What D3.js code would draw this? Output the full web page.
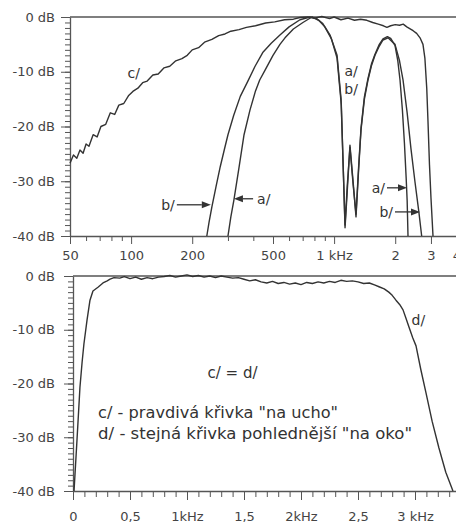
<!DOCTYPE html>
<html><head><meta charset="utf-8">
<script src="https://cdn.jsdelivr.net/npm/d3@7"></script>
<style>
html,body{margin:0;padding:0;background:#fff;}
svg{display:block;}
text{font-family:"DejaVu Sans",sans-serif;}
</style></head><body>
<svg id="chart" width="456" height="523"></svg>
<script>
// ---------- DATA ----------
// Top chart (log frequency, Hz)
const cFreqHz = [50,52,54,56,58,60,62,65,68,71,75,79,83,87,92,97,102,108,114,120,128,136,145,155,166,178,189,200,215,230,250,270,290,310,340,370,410,460,510,570,630,680,740,800,870,950,1000,1080,1170,1260,1350,1450,1550,1650,1750,1820,1900,2000,2100,2190,2280,2380,2450,2550,2650,2740,2800,2860,2900,2950,3000,3070];
const cLevelDb = [-26.7,-25.2,-25.8,-24.3,-24.9,-23.2,-23.6,-21.5,-21.9,-20.0,-19.6,-17.5,-17.8,-16.1,-15.8,-14.4,-13.6,-13.0,-12.0,-11.7,-10.6,-10.4,-9.3,-9.0,-8.0,-7.6,-7.0,-6.0,-5.6,-4.6,-4.1,-3.4,-3.1,-2.6,-2.3,-1.9,-1.6,-1.1,-0.9,-0.5,-0.4,-0.1,0.0,-0.2,0.1,-0.3,0.0,-0.5,-0.2,-0.6,-0.4,-0.6,-1.0,-1.3,-1.6,-1.9,-1.6,-1.4,-1.5,-1.3,-1.8,-2.2,-2.5,-3.0,-3.8,-5.0,-7.5,-13,-19,-27,-33,-40];

const aFreqHz = [300,310,321,340,360,385,410,430,457,500,541,573,630,702,778,840,900,970,1034,1085,1112,1132,1160,1197,1240,1282,1320,1357,1410,1469,1530,1590,1670,1741,1830,1900,1995,2060,2112,2170,2220,2265,2290,2312];
const aLevelDb = [-40,-36.5,-33.4,-27.5,-21.5,-17,-13.5,-11.5,-9.7,-7,-5,-3.8,-2.2,-1,0,-0.6,-1.8,-4,-7.5,-16,-29,-38,-31,-23.8,-30.5,-36,-27.5,-20.3,-14.6,-11.2,-8.5,-6.8,-5,-4,-3.6,-3.9,-5.2,-8,-11.5,-17,-23,-29.5,-33.5,-40];

const bFreqHz = [236,242,250,262,275,288,300,320,345,375,408,445,490,541,600,679,761,820,880,955,1034,1082,1110,1132,1160,1197,1240,1282,1320,1357,1410,1469,1530,1590,1670,1741,1843,1995,2100,2185,2290,2390,2500,2615,2700];
const bLevelDb = [-40,-37.5,-34.7,-31,-27.3,-24.2,-21.5,-18,-14.5,-11.8,-9,-6.5,-4.8,-3.3,-1.8,-0.5,0,-0.3,-1.2,-3.3,-7,-15,-28,-38.5,-32,-23.4,-30,-36.5,-28,-20.6,-15,-11.5,-8.8,-7,-5.3,-4.2,-3.8,-5,-8,-11.5,-17.5,-24,-30,-35.6,-40];

// Bottom chart (linear frequency, kHz)
const dFreqKHz = [0.009,0.035,0.061,0.08,0.096,0.123,0.149,0.175,0.219,0.263,0.3,0.325,0.36,0.41,0.45,0.5,0.55,0.6,0.65,0.7,0.75,0.8,0.85,0.9,0.95,1.0,1.05,1.1,1.15,1.2,1.25,1.3,1.35,1.4,1.45,1.5,1.55,1.6,1.65,1.7,1.75,1.8,1.85,1.9,1.95,2.0,2.05,2.1,2.15,2.2,2.25,2.3,2.35,2.4,2.45,2.5,2.55,2.6,2.65,2.684,2.73,2.77,2.8,2.833,2.865,2.895,2.92,2.947,2.98,3.009,3.05,3.096,3.15,3.21,3.27,3.333];
const dLevelDb = [-40,-30.5,-20.7,-16,-12.6,-8.2,-4.5,-2.8,-2.1,-1.3,-0.9,-0.6,-0.3,-0.4,-0.1,-0.5,-0.2,-0.6,-0.3,-0.5,-0.2,-0.1,0.1,-0.2,0.0,0.2,-0.1,0.1,-0.2,0.0,-0.3,0.0,-0.2,-0.4,-0.3,-0.6,-0.9,-0.7,-1.1,-1.3,-1.0,-1.4,-1.2,-1.5,-1.3,-1.6,-1.2,-1.4,-1.1,-1.3,-1.0,-1.2,-0.8,-1.0,-0.9,-1.1,-1.4,-1.3,-1.7,-2.0,-2.4,-3.0,-3.6,-4.5,-5.3,-6.3,-7.8,-9.5,-11.5,-13,-17.3,-21.7,-27,-32,-36.5,-40];

// Axes ticks
const yMajorDb = [0,-10,-20,-30,-40];
const yMinorDb = d3.range(-40,1,1);
const topMajorHz = [50,100,200,500,1000,2000,3000,4000];
const topMajorLabels = ["50","100","200","500","1 kHz","2","3","4"];
const topMinorHz = [60,70,80,90,300,400,600,700,800,900];
const botMajorKHz = [0,0.5,1,1.5,2,2.5,3];
const botMajorLabels = ["0","0,5","1kHz","1,5","2kHz","2,5","3 kHz"];
const botMinorKHz = d3.range(0,3.41,0.1).map(v=>+v.toFixed(1));

// Annotations (data units)
const arrowText = ["b/","a/","a/","b/"];
const arrowFromHz = [168,399,1822,1995];
const arrowToHz = [247,321,2286,2649];
const arrowDb = [-34.3,-33.2,-31.2,-35.6];
const topLabelText = ["c/","a/","b/"];
const topLabelHz = [103,1212,1212];
const topLabelDb = [-10.2,-9.9,-13.2];

// ---------- DRAW ----------
const svg = d3.select("#chart");
const ink = "#333", axisInk = "#555", labelInk = "#444";

const xTop = d3.scaleLog().domain([50,5000]).range([70,476]);
const yTop = d3.scaleLinear().domain([-40,0]).range([236,17]);
const xBot = d3.scaleLinear().domain([0,3.5]).range([73,472]);
const yBot = d3.scaleLinear().domain([-40,0]).range([491,276]);

function styleAxis(g){
  g.selectAll("path.domain").attr("stroke",axisInk).attr("stroke-width",1.3);
  g.selectAll(".tick line").attr("stroke",axisInk).attr("stroke-width",1);
  g.selectAll(".tick text").attr("fill",labelInk).attr("font-size",13).attr("font-family","DejaVu Sans, sans-serif");
}

function drawYAxis(y, x0){
  const gMin = svg.append("g").attr("transform",`translate(${x0},0)`)
    .call(d3.axisLeft(y).tickValues(yMinorDb).tickSize(5).tickFormat(""));
  gMin.select("path.domain").remove();
  styleAxis(gMin);
  const g = svg.append("g").attr("transform",`translate(${x0},0)`)
    .call(d3.axisLeft(y).tickValues(yMajorDb).tickSize(9).tickSizeOuter(0).tickPadding(x0===70?6:9).tickFormat(d=>d+" dB"));
  styleAxis(g);
}

// Top chart
drawYAxis(yTop,70);
{
  const gMin = svg.append("g").attr("transform","translate(0,236)")
    .call(d3.axisBottom(xTop).tickValues(topMinorHz).tickSize(5).tickFormat(""));
  gMin.select("path.domain").remove(); styleAxis(gMin);
  const g = svg.append("g").attr("transform","translate(0,236)")
    .call(d3.axisBottom(xTop).tickValues(topMajorHz).tickSize(8).tickSizeOuter(0).tickPadding(7)
      .tickFormat((d,i)=>topMajorLabels[i]));
  styleAxis(g);
  svg.append("line").attr("x1",xTop(50)).attr("x2",456).attr("y1",yTop(0)).attr("y2",yTop(0))
    .attr("stroke",axisInk).attr("stroke-width",1.3);
}

const lineTop = d3.line().x(d=>xTop(d[0])).y(d=>yTop(d[1]));
[[cFreqHz,cLevelDb],[aFreqHz,aLevelDb],[bFreqHz,bLevelDb]].forEach(([f,l])=>{
  svg.append("path").datum(f.map((v,i)=>[v,l[i]])).attr("d",lineTop)
    .attr("fill","none").attr("stroke",ink).attr("stroke-width",1.4).attr("stroke-linejoin","round");
});

// arrows
arrowText.forEach((t,i)=>{
  const x1 = xTop(arrowFromHz[i]), x2 = xTop(arrowToHz[i]), y = yTop(arrowDb[i]);
  const dir = Math.sign(x2-x1);
  const head = 9;
  svg.append("line").attr("x1",x1).attr("x2",x2-dir*head).attr("y1",y).attr("y2",y)
    .attr("stroke",ink).attr("stroke-width",1.3);
  svg.append("path").attr("d",`M${x2},${y} L${x2-dir*head},${y-3.5} L${x2-dir*head},${y+3.5} Z`).attr("fill",ink);
  svg.append("text").attr("x",dir>0? x1-2 : x1+4).attr("y",y).attr("dy","0.36em")
    .attr("text-anchor",dir>0?"end":"start").attr("font-size",14).attr("fill",ink).text(t);
});
topLabelText.forEach((t,i)=>{
  svg.append("text").attr("x",xTop(topLabelHz[i])).attr("y",yTop(topLabelDb[i])).attr("dy","0.36em")
    .attr("text-anchor","middle").attr("font-size",14).attr("fill",ink).text(t);
});

// Bottom chart
drawYAxis(yBot,73);
{
  const gMin = svg.append("g").attr("transform","translate(0,491)")
    .call(d3.axisBottom(xBot).tickValues(botMinorKHz).tickSize(6).tickFormat(""));
  gMin.select("path.domain").remove(); styleAxis(gMin);
  const g = svg.append("g").attr("transform","translate(0,491)")
    .call(d3.axisBottom(xBot).tickValues(botMajorKHz).tickSize(9).tickSizeOuter(0).tickPadding(12)
      .tickFormat((d,i)=>botMajorLabels[i]));
  styleAxis(g);
  svg.append("line").attr("x1",xBot(0)).attr("x2",456).attr("y1",yBot(0)).attr("y2",yBot(0))
    .attr("stroke",axisInk).attr("stroke-width",1.3);
}
const lineBot = d3.line().x(d=>xBot(d[0])).y(d=>yBot(d[1]));
svg.append("path").datum(dFreqKHz.map((v,i)=>[v,dLevelDb[i]])).attr("d",lineBot)
  .attr("fill","none").attr("stroke",ink).attr("stroke-width",1.4).attr("stroke-linejoin","round");

// bottom annotations
svg.append("text").attr("x",xBot(3.03)).attr("y",yBot(-8.2)).attr("dy","0.36em")
  .attr("text-anchor","middle").attr("font-size",14).attr("fill",ink).text("d/");
svg.append("text").attr("x",xBot(1.18)).attr("y",yBot(-17.9)).attr("dy","0.36em")
  .attr("font-size",15).attr("fill",ink).attr("textLength",50).attr("lengthAdjust","spacingAndGlyphs").text("c/ = d/");
svg.append("text").attr("x",xBot(0.22)).attr("y",yBot(-25.5)).attr("dy","0.36em")
  .attr("font-size",15).attr("fill",ink).attr("textLength",240).attr("lengthAdjust","spacingAndGlyphs")
  .text("c/ - pravdivá křivka \"na ucho\"");
svg.append("text").attr("x",xBot(0.22)).attr("y",yBot(-29.3)).attr("dy","0.36em")
  .attr("font-size",15).attr("fill",ink).attr("textLength",314).attr("lengthAdjust","spacingAndGlyphs")
  .text("d/ - stejná křivka pohlednější \"na oko\"");
</script>
</body></html>
